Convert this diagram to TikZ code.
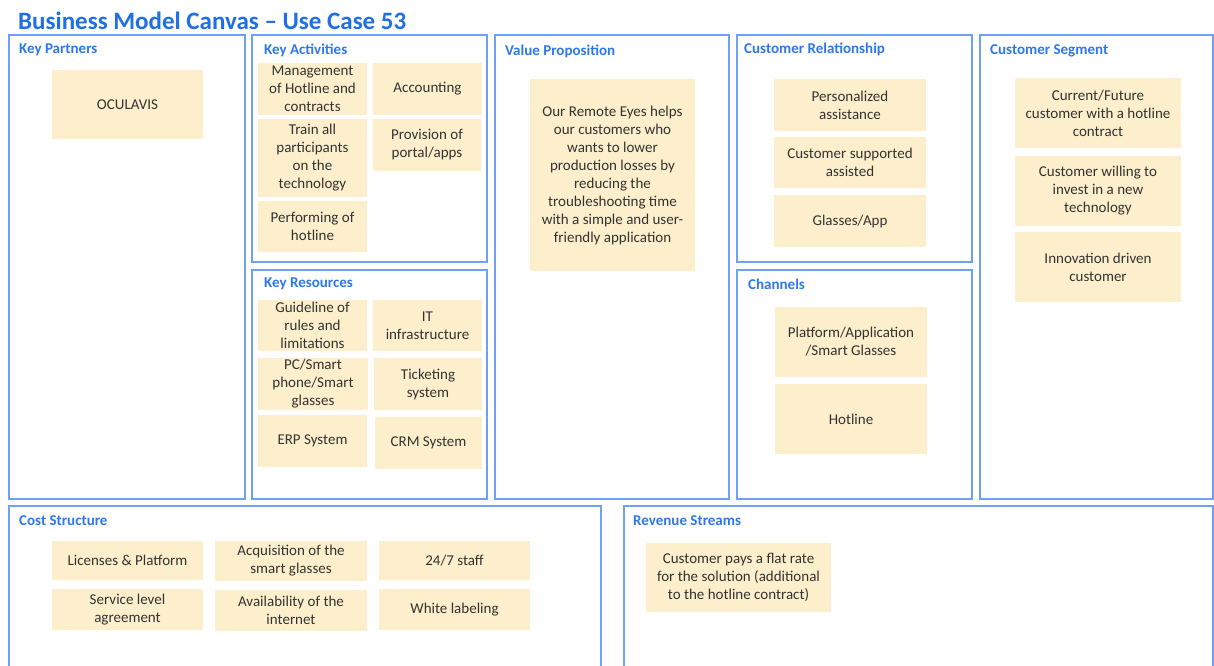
\documentclass[tikz,border=0pt]{standalone}
\usepackage{fontspec}
\setmainfont{Carlito}
\definecolor{titleblue}{HTML}{1F6FE5}
\definecolor{headblue}{HTML}{2E78EC}
\definecolor{framblue}{HTML}{6FA0F4}
\definecolor{notefill}{HTML}{FDEFCB}
\definecolor{notetext}{HTML}{333333}
\tikzset{
  block/.style={draw=framblue, line width=2pt},
  heading/.style={anchor=west, inner sep=0pt, text=headblue,
    font=\fontsize{15}{17}\selectfont\bfseries},
  note/.style 2 args={fill=notefill, draw=none, inner sep=1pt,
    minimum width=#1, minimum height=#2, align=center, text=notetext,
    font=\fontsize{15}{18}\selectfont},
}
\begin{document}
\begin{tikzpicture}[x=1pt, y=-1pt]
  \useasboundingbox (0,0) rectangle (1214,665);
  \clip (0,0) rectangle (1214,665);
  \fill[white] (0,0) rectangle (1214,665);

  % title
  \node[anchor=west, inner sep=0pt, text=titleblue,
        font=\fontsize{25}{27}\selectfont\bfseries] (title) at (18,21)
        {Business Model Canvas – Use Case 53};

  % canvas blocks
  \draw[block] (9,35)    rectangle (245,499);
  \draw[block] (252,35)  rectangle (487,262);
  \draw[block] (252,270) rectangle (487,499);
  \draw[block] (495,35)  rectangle (729,499);
  \draw[block] (737,35)  rectangle (972,262);
  \draw[block] (737,270) rectangle (972,499);
  \draw[block] (980,35)  rectangle (1213,499);
  \draw[block] (9,506)   rectangle (601,700);
  \draw[block] (624,506) rectangle (1213,700);

  % block headings
  \node[heading] (hkp) at (19,50)  {Key Partners};
  \node[heading] (hka) at (264,50) {Key Activities};
  \node[heading] (hvp) at (505,51) {Value Proposition};
  \node[heading] (hcr) at (744,49) {Customer Relationship};
  \node[heading] (hcs) at (990,51) {Customer Segment};
  \node[heading] (hkr) at (264,284) {Key Resources};
  \node[heading] (hch) at (748,284) {Channels};
  \node[heading] (hco) at (19,521) {Cost Structure};
  \node[heading] (hrs) at (633,521) {Revenue Streams};

  % key partners
  \node[note={151pt}{69pt}] (kp1) at (127.5,104.5) {OCULAVIS};

  % key activities
  \node[note={109pt}{52pt}] (ka1) at (312.5,89)  {Management\\of Hotline and\\contracts};
  \node[note={109pt}{52pt}] (ka2) at (427.5,89)  {Accounting};
  \node[note={109pt}{78pt}] (ka3) at (312.5,158) {Train all\\participants\\on the\\technology};
  \node[note={108pt}{52pt}] (ka4) at (427,145)   {Provision of\\portal/apps};
  \node[note={109pt}{51pt}] (ka5) at (312.5,226.5) {Performing of\\hotline};

  % key resources
  \node[note={109pt}{51pt}] (kr1) at (312.5,325.5) {Guideline of\\rules and\\limitations};
  \node[note={109pt}{51pt}] (kr2) at (427.5,325.5) {IT\\infrastructure};
  \node[note={110pt}{52pt}] (kr3) at (313,384)     {PC/Smart\\phone/Smart\\glasses};
  \node[note={108pt}{52pt}] (kr4) at (428,384)     {Ticketing\\system};
  \node[note={109pt}{52pt}] (kr5) at (312.5,441)   {ERP System};
  \node[note={107pt}{52pt}] (kr6) at (428.5,443)   {CRM System};

  % value proposition
  \node[note={165pt}{192pt}] (vp1) at (612.5,175)
    {Our Remote Eyes helps\\our customers who\\wants to lower\\production losses by\\reducing the\\troubleshooting time\\with a simple and user-\\friendly application};

  % customer relationship
  \node[note={152pt}{52pt}] (cr1) at (850,105)   {Personalized\\assistance};
  \node[note={152pt}{51pt}] (cr2) at (850,162.5) {Customer supported\\assisted};
  \node[note={152pt}{52pt}] (cr3) at (850,221)   {Glasses/App};

  % channels
  \node[note={152pt}{70pt}] (ch1) at (851,342) {Platform/Application\\/Smart Glasses};
  \node[note={152pt}{70pt}] (ch2) at (851,419) {Hotline};

  % customer segment
  \node[note={166pt}{70pt}] (cs1) at (1098,113) {Current/Future\\customer with a hotline\\contract};
  \node[note={166pt}{70pt}] (cs2) at (1098,191) {Customer willing to\\invest in a new\\technology};
  \node[note={166pt}{70pt}] (cs3) at (1098,267) {Innovation driven\\customer};

  % cost structure
  \node[note={151pt}{39pt}] (co1) at (127.5,560.5) {Licenses \& Platform};
  \node[note={152pt}{40pt}] (co2) at (291,561)     {Acquisition of the\\smart glasses};
  \node[note={151pt}{39pt}] (co3) at (454.5,560.5) {24/7 staff};
  \node[note={151pt}{41pt}] (co4) at (127.5,609.5) {Service level\\agreement};
  \node[note={152pt}{41pt}] (co5) at (291,610.5)   {Availability of the\\internet};
  \node[note={151pt}{41pt}] (co6) at (454.5,609.5) {White labeling};

  % revenue streams
  \node[note={185pt}{69pt}] (rs1) at (738.5,577.5)
    {Customer pays a flat rate\\for the solution (additional\\to the hotline contract)};
\end{tikzpicture}
\end{document}
